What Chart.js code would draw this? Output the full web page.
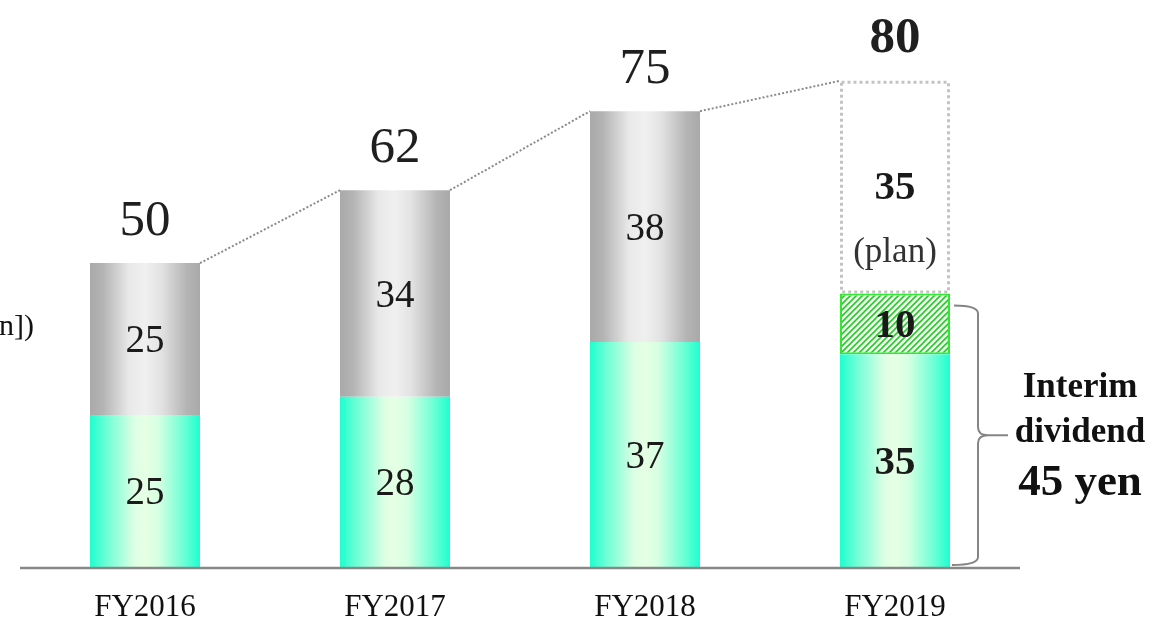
<!DOCTYPE html>
<html>
<head>
<meta charset="utf-8">
<script src="https://cdn.jsdelivr.net/npm/chart.js@4.4.0/dist/chart.umd.min.js"></script>
<style>
  html, body { margin: 0; padding: 0; background: #fff; }
</style>
</head>
<body>
<canvas id="c" width="1158" height="622"></canvas>
<script>
// values (yen per share)
const years = ['FY2016', 'FY2017', 'FY2018', 'FY2019'];
const interim = [25, 28, 37, 35];
const yearEnd = [25, 34, 38, null];
const interimExtra = [null, null, null, 10];
const planned = [null, null, null, 35];
const totals = [50, 62, 75, 80];

const FONT = '"Liberation Serif", "DejaVu Serif", serif';
const BAR_FRAC = 0.44;

// horizontal gradient across one bar
function barFill(stops) {
  return function (ctx) {
    const chart = ctx.chart, area = chart.chartArea;
    if (!area) return stops[0][1];
    const x = chart.scales.x.getPixelForValue(ctx.dataIndex);
    const w = (area.right - area.left) / years.length * BAR_FRAC;
    const g = chart.ctx.createLinearGradient(x - w / 2, 0, x + w / 2, 0);
    stops.forEach(s => g.addColorStop(s[0], s[1]));
    return g;
  };
}

// hatch pattern for the extra interim part
const hc = document.createElement('canvas');
hc.width = 6; hc.height = 6;
const hx = hc.getContext('2d');
hx.fillStyle = '#fff';
hx.fillRect(0, 0, 6, 6);
hx.strokeStyle = '#1fcf1f';
hx.lineWidth = 1.6;
hx.beginPath();
hx.moveTo(0, 6); hx.lineTo(6, 0);
hx.moveTo(-3, 3); hx.lineTo(3, -3);
hx.moveTo(3, 9); hx.lineTo(9, 3);
hx.stroke();
const hatch = document.getElementById('c').getContext('2d').createPattern(hc, 'repeat');

const greenStops = [[0, '#1effcf'], [0.15, '#6effd6'], [0.4, '#dcffe4'], [0.5, '#e6ffe4'], [0.62, '#d6ffe2'], [0.85, '#6effd6'], [1, '#1effcf']];
const grayStops = [[0, '#a9a9a9'], [0.12, '#b4b4b4'], [0.35, '#e8e8e8'], [0.5, '#f0f0f0'], [0.65, '#e2e2e2'], [0.88, '#b4b4b4'], [1, '#a9a9a9']];

const overlay = {
  id: 'overlay',
  afterDatasetsDraw(chart) {
    const ctx = chart.ctx, xs = chart.scales.x, ys = chart.scales.y, area = chart.chartArea;
    const w = (area.right - area.left) / years.length * BAR_FRAC;
    const base = ys.getPixelForValue(0);
    ctx.save();

    // baseline
    ctx.strokeStyle = '#878787';
    ctx.lineWidth = 2.5;
    ctx.beginPath();
    ctx.moveTo(area.left, base + 1);
    ctx.lineTo(area.right, base + 1);
    ctx.stroke();

    // category labels
    ctx.fillStyle = '#111';
    ctx.font = '31px ' + FONT;
    ctx.textAlign = 'center';
    ctx.textBaseline = 'middle';
    years.forEach((y, i) => ctx.fillText(y, xs.getPixelForValue(i), 608));

    // dotted connectors between bar tops
    ctx.strokeStyle = '#8a8a8a';
    ctx.lineWidth = 2;
    ctx.setLineDash([2, 2]);
    ctx.beginPath();
    for (let i = 0; i < totals.length - 1; i++) {
      ctx.moveTo(xs.getPixelForValue(i) + w / 2, ys.getPixelForValue(totals[i]));
      ctx.lineTo(xs.getPixelForValue(i + 1) - w / 2, ys.getPixelForValue(totals[i + 1]));
    }
    ctx.stroke();

    // dotted frame of the planned part
    const pm = chart.getDatasetMeta(3).data[3];
    ctx.strokeStyle = '#c3c3c3';
    ctx.lineWidth = 3;
    ctx.setLineDash([3, 3]);
    ctx.strokeRect(pm.x - pm.width / 2 + 1.5, pm.y + 1.5, pm.width - 3, pm.base - pm.y - 3);
    ctx.setLineDash([]);

    // segment values
    chart.data.datasets.forEach((ds, di) => {
      const meta = chart.getDatasetMeta(di);
      ds.data.forEach((v, i) => {
        if (v == null) return;
        const el = meta.data[i];
        const bold = i === 3;
        ctx.fillStyle = '#1a1a1a';
        ctx.font = (bold ? 'bold 41px ' : '39px ') + FONT;
        let cy = (el.y + el.base) / 2 + 3;
        if (di === 3) cy = el.y + 108;
        ctx.fillText(String(v), el.x, cy);
        if (di === 3) {
          ctx.fillStyle = '#333';
          ctx.font = '35px ' + FONT;
          ctx.fillText('(plan)', el.x, el.y + 172);
        }
      });
    });

    // totals above bars
    totals.forEach((t, i) => {
      ctx.fillStyle = '#1f1f1f';
      ctx.font = (i === 3 ? 'bold 51px ' : '51px ') + FONT;
      ctx.fillText(String(t), xs.getPixelForValue(i), ys.getPixelForValue(t) - 42);
    });

    // brace for the interim dividend
    const bx = xs.getPixelForValue(3) + w / 2;
    const top = ys.getPixelForValue(45) + 12, bot = base - 2, mid = (top + bot) / 2;
    const vx = bx + 28;
    ctx.strokeStyle = '#858585';
    ctx.lineWidth = 2;
    ctx.beginPath();
    ctx.moveTo(bx + 4, top);
    ctx.quadraticCurveTo(vx, top, vx, top + 8);
    ctx.lineTo(vx, mid - 8);
    ctx.quadraticCurveTo(vx, mid, vx + 10, mid);
    ctx.lineTo(vx + 30, mid);
    ctx.moveTo(vx + 10, mid);
    ctx.quadraticCurveTo(vx, mid, vx, mid + 8);
    ctx.lineTo(vx, bot - 8);
    ctx.quadraticCurveTo(vx, bot, bx + 2, bot);
    ctx.stroke();

    ctx.fillStyle = '#111';
    ctx.font = 'bold 35px ' + FONT;
    ctx.fillText('Interim', 1080, 388);
    ctx.fillText('dividend', 1080, 433);
    ctx.font = 'bold 45px ' + FONT;
    ctx.fillText('45 yen', 1080, 483);

    // axis title, cut off at the left edge in the original
    ctx.font = '30px ' + FONT;
    ctx.textAlign = 'left';
    ctx.fillText('n])', -1, 327);

    ctx.restore();
  }
};

new Chart(document.getElementById('c'), {
  type: 'bar',
  data: {
    labels: years,
    datasets: [
      { label: 'Interim', data: interim, backgroundColor: barFill(greenStops), borderWidth: 0 },
      { label: 'Year-end', data: yearEnd, backgroundColor: barFill(grayStops), borderWidth: 0 },
      { label: 'Interim (extra)', data: interimExtra, backgroundColor: hatch,
        borderColor: '#2fe82f', borderWidth: 2, borderSkipped: false },
      { label: 'Plan', data: planned, backgroundColor: '#fff', borderWidth: 0 }
    ]
  },
  options: {
    responsive: false,
    animation: false,
    events: [],
    layout: { padding: { left: 20, right: 138, top: 20, bottom: 55 } },
    datasets: { bar: { categoryPercentage: 1, barPercentage: BAR_FRAC } },
    plugins: { legend: { display: false }, tooltip: { enabled: false } },
    scales: {
      x: { stacked: true, display: false },
      y: { stacked: true, display: false, min: 0, max: 90 }
    }
  },
  plugins: [overlay]
});
</script>
</body>
</html>
